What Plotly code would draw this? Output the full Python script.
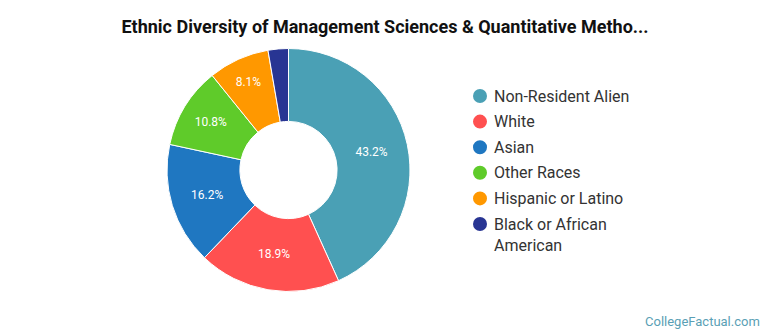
import plotly.graph_objects as go

# Share of students by ethnicity
groups = ["Non-Resident Alien", "White", "Asian", "Other Races",
          "Hispanic or Latino", "Black or African<br>American"]
shares = [43.2, 18.9, 16.2, 10.8, 8.1, 2.7]
colors = ["#4aa0b5", "#ff5050", "#1f77c1", "#5fcb2a", "#ff9800", "#283593"]

W, H = 770, 335
cx, cy, r = 288.5, 170, 121.5

slice_text = [f"{v}%" if v >= 5 else "" for v in shares]

fig = go.Figure()
fig.add_trace(go.Pie(
    labels=[g.replace("<br>", " ") for g in groups],
    values=shares,
    text=slice_text,
    textinfo="text",
    textposition="inside",
    insidetextorientation="horizontal",
    sort=False,
    direction="clockwise",
    rotation=0,
    hole=0.4,
    marker=dict(colors=colors, line=dict(color="white", width=1)),
    textfont=dict(family="Roboto", size=12, color="white"),
    showlegend=False,
    domain=dict(x=[(cx - r) / W, (cx + r) / W], y=[1 - (cy + r) / H, 1 - (cy - r) / H]),
))

# legend with round swatches, drawn in paper coordinates
shapes, annotations = [], []
lx, ly0, step, dot = 480, 96, 25.6, 7
for i, (g, c) in enumerate(zip(groups, colors)):
    y = ly0 + i * step
    shapes.append(dict(
        type="circle", xref="paper", yref="paper",
        x0=(lx - dot) / W, x1=(lx + dot) / W,
        y0=1 - (y + dot) / H, y1=1 - (y - dot) / H,
        fillcolor=c, line=dict(width=0),
    ))
    annotations.append(dict(
        text=g, x=(lx + 12) / W, y=1 - (y - 11.5) / H,
        xref="paper", yref="paper", xanchor="left", yanchor="top",
        align="left", showarrow=False,
        font=dict(family="Roboto", size=16, color="#333333"),
    ))

annotations.append(dict(
    text="CollegeFactual.com", x=1 - 8 / W, y=1 - 321 / H,
    xref="paper", yref="paper", xanchor="right", yanchor="middle",
    showarrow=False, font=dict(family="Roboto", size=13, color="#5a9fb5"),
))

fig.update_layout(
    width=W, height=H,
    margin=dict(l=0, r=0, t=0, b=0),
    paper_bgcolor="white", plot_bgcolor="white",
    title=dict(
        text="<b>Ethnic Diversity of Management Sciences &amp; Quantitative Metho...</b>",
        x=0.5, xanchor="center", y=1 - 27 / H, yanchor="middle",
        font=dict(family="Roboto", size=18, color="#111111"),
    ),
    shapes=shapes,
    annotations=annotations,
)

fig.write_html("out.html")
